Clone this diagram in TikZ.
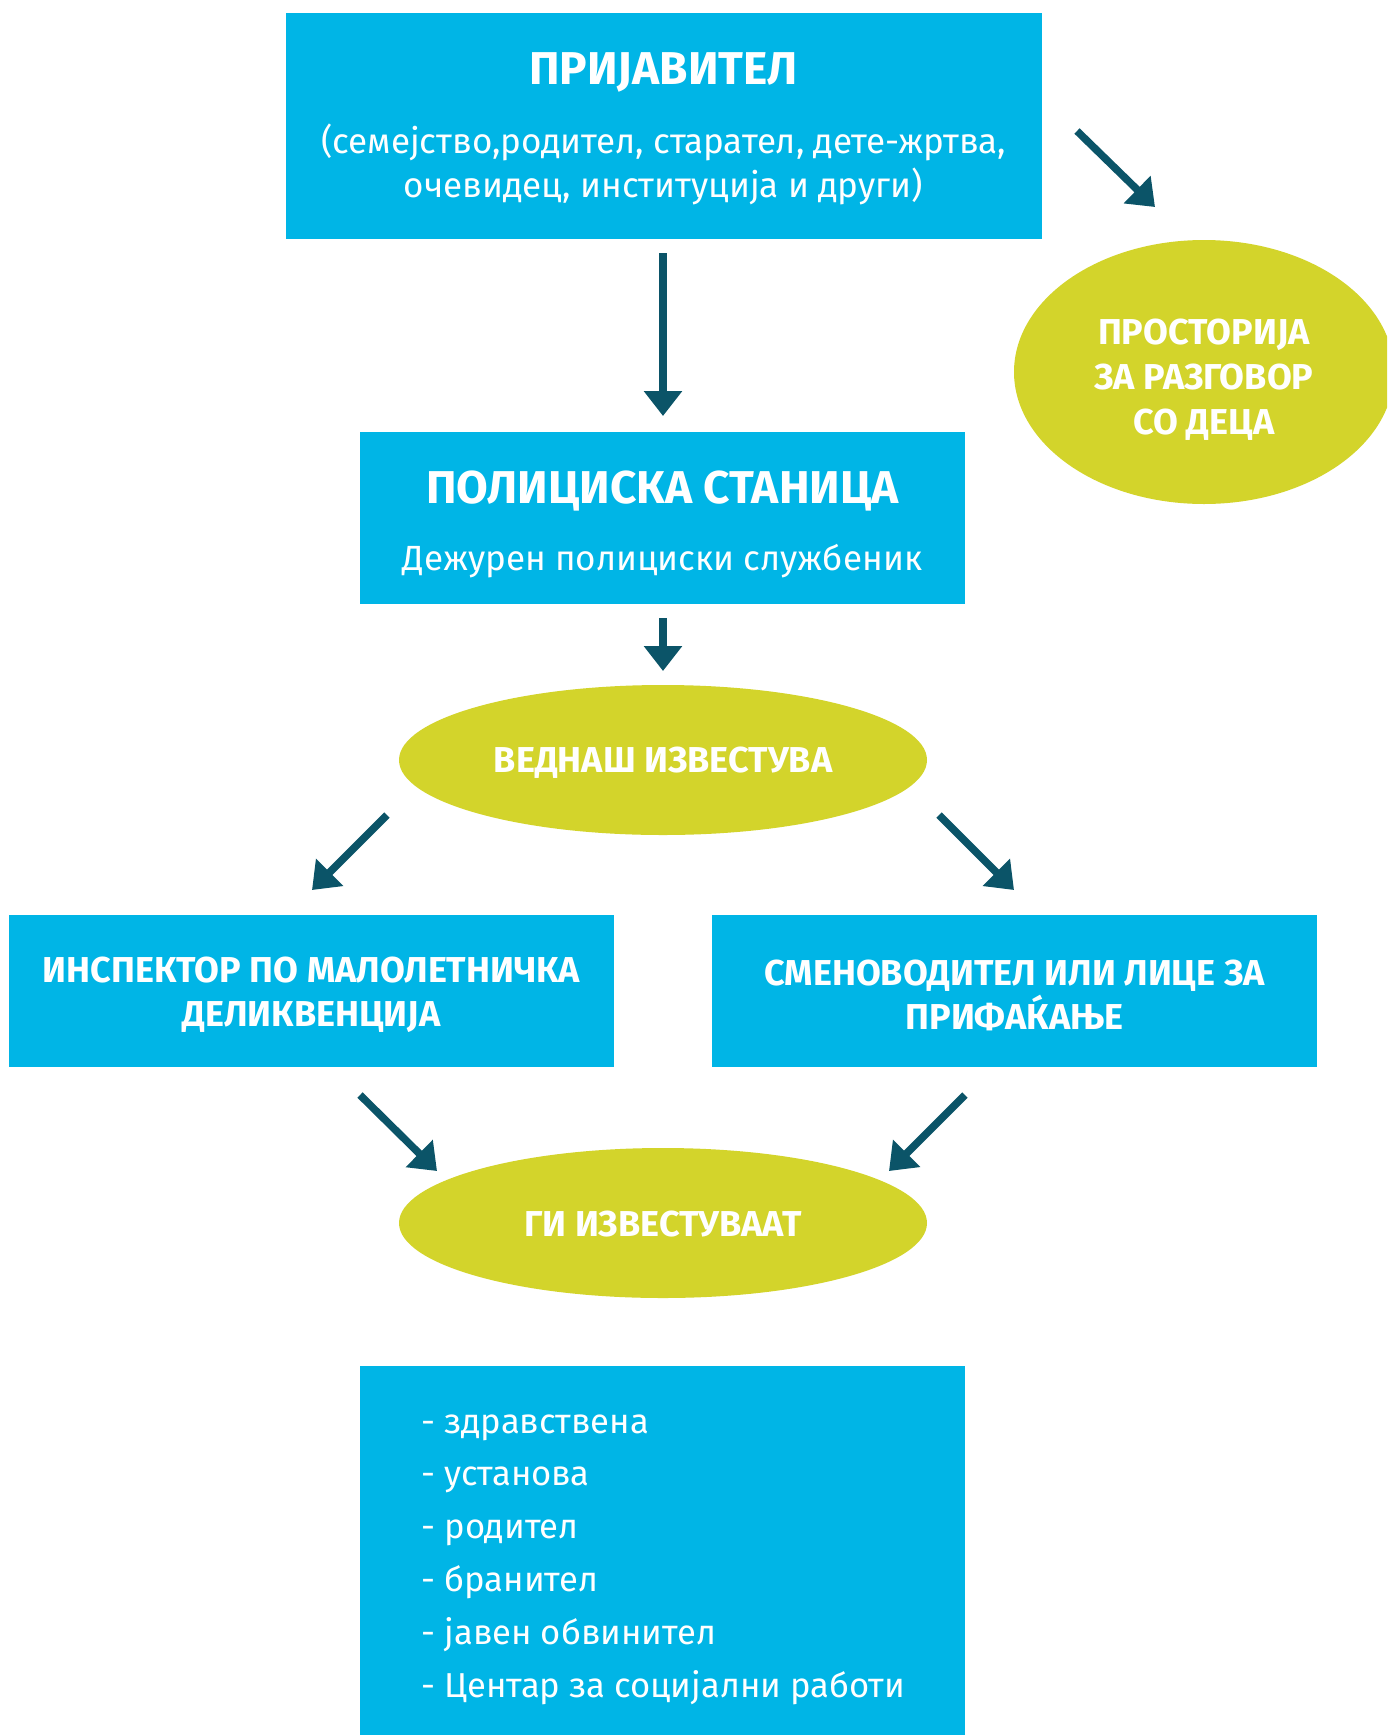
\documentclass[tikz,border=0pt]{standalone}
\usepackage{fontspec}
\setmainfont{Fira Sans}
\usetikzlibrary{shapes.geometric,arrows.meta}
\definecolor{boxblue}{HTML}{00B5E6}
\definecolor{ovalgreen}{HTML}{D3D42B}
\definecolor{arrowteal}{HTML}{0B5468}
\tikzset{
  bluebox/.style={rectangle, fill=boxblue, inner sep=0pt},
  oval/.style={ellipse, fill=ovalgreen, inner sep=0pt, text=white, align=center,
    font=\bfseries\fontsize{18}{22.5}\selectfont},
  ovaltext/.style={text=white, align=center, inner sep=0pt,
    font=\bfseries\fontsize{18}{22.5}\selectfont},
  flowarrow/.style={draw=arrowteal, line width=3.75pt, -{Triangle[width=18.5pt,length=12.5pt]}},
  headtext/.style={text=white, align=center, font=\bfseries\fontsize{23}{28}\selectfont, inner sep=0pt},
  boxhead/.style={text=white, align=center, font=\bfseries\fontsize{18}{22}\selectfont, inner sep=0pt},
  bodytext/.style={text=white, align=center, font=\fontsize{17.5}{22}\selectfont, inner sep=0pt},
  listline/.style={text=white, anchor=base west, inner sep=0pt, font=\fontsize{17.3}{22}\selectfont},
}
\begin{document}
\begin{tikzpicture}[x=0.5pt,y=-0.5pt]
\useasboundingbox (0,0) rectangle (1387,1735);
\clip (0,0) rectangle (1387,1735);

% boxes
\node[bluebox, minimum width=378pt, minimum height=113pt] (prijavitel) at (663.5,126) {};
\node[headtext] (prijtitle) at (663.5,72.5) {ПРИЈАВИТЕЛ};
\node[bodytext] (prijbody) at (663.5,164.5) {(семејство,родител, старател, дете-жртва,\\очевидец, институција и други)};

\node[bluebox, minimum width=302.5pt, minimum height=86pt] (policija) at (662.5,518) {};
\node[headtext] (poltitle) at (662.5,490.5) {ПОЛИЦИСКА СТАНИЦА};
\node[bodytext] (polbody) at (662.5,561) {Дежурен полициски службеник};

\node[oval, minimum width=264pt, minimum height=75pt] (vednas) at (663,760) {};
\node[ovaltext] (vednastext) at (663,763) {ВЕДНАШ ИЗВЕСТУВА};

\node[oval, minimum width=190pt, minimum height=132pt] (prostorija) at (1204,372) {};
\node[ovaltext] (prostext) at (1204,380) {ПРОСТОРИЈА\\ЗА РАЗГОВОР\\СО ДЕЦА};

\node[bluebox, minimum width=302.5pt, minimum height=76pt] (inspektor) at (311.5,991) {};
\node[boxhead] (insptext) at (311.5,995) {ИНСПЕКТОР ПО МАЛОЛЕТНИЧКА\\ДЕЛИКВЕНЦИЈА};

\node[bluebox, minimum width=302.5pt, minimum height=76pt] (smenovoditel) at (1014.5,991) {};
\node[boxhead] (smentext) at (1014.5,995) {СМЕНОВОДИТЕЛ ИЛИ ЛИЦЕ ЗА\\ПРИФАЌАЊЕ};

\node[oval, minimum width=264pt, minimum height=75pt] (izvestuvaat) at (663,1223) {};
\node[ovaltext] (izvtext) at (663,1224) {ГИ ИЗВЕСТУВААТ};

\node[bluebox, minimum width=302.5pt, minimum height=186pt] (lista) at (662.5,1552) {};
\node[listline] (l1) at (421,1433) {- здравствена};
\node[listline] (l2) at (421,1485.8) {- установа};
\node[listline] (l3) at (421,1538.6) {- родител};
\node[listline] (l4) at (421,1591.4) {- бранител};
\node[listline] (l5) at (421,1644.2) {- јавен обвинител};
\node[listline] (l6) at (421,1697) {- Центар за социјални работи};

% arrow end points
\coordinate (a1s) at (663,253);  \coordinate (a1e) at (663,416);
\coordinate (a2s) at (663,618);  \coordinate (a2e) at (663,671);
\coordinate (a3s) at (1077,131); \coordinate (a3e) at (1155,207);
\coordinate (a4s) at (387,815);  \coordinate (a4e) at (312,890);
\coordinate (a5s) at (939,815);  \coordinate (a5e) at (1014,890);
\coordinate (a6s) at (360,1095); \coordinate (a6e) at (437,1171);
\coordinate (a7s) at (965,1095); \coordinate (a7e) at (889,1171);

\draw[flowarrow] (a1s) -- (a1e);
\draw[flowarrow] (a2s) -- (a2e);
\draw[flowarrow] (a3s) -- (a3e);
\draw[flowarrow] (a4s) -- (a4e);
\draw[flowarrow] (a5s) -- (a5e);
\draw[flowarrow] (a6s) -- (a6e);
\draw[flowarrow] (a7s) -- (a7e);
\end{tikzpicture}
\end{document}
